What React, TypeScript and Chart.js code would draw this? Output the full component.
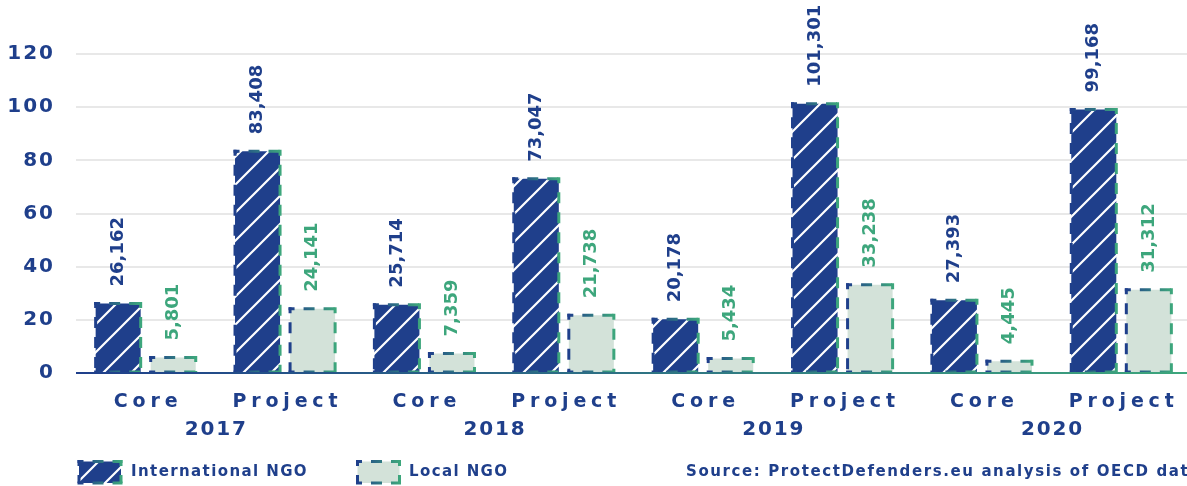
import React, { useEffect, useRef } from "react";
import { Chart, registerables } from "chart.js";

Chart.register(...registerables);

const categories = ["Core", "Project", "Core", "Project", "Core", "Project", "Core", "Project"];
const years = ["2017", "2018", "2019", "2020"];
const internationalNGO = [26162, 83408, 25714, 73047, 20178, 101301, 27393, 99168];
const localNGO = [5801, 24141, 7359, 21738, 5434, 33238, 4445, 31312];
const yTicks = [0, 20, 40, 60, 80, 100, 120];
const seriesNames = ["International NGO", "Local NGO"];
const sourceText = "Source: ProtectDefenders.eu analysis of OECD data";

const NAVY = "#1f3f8b";
const GREEN = "#3da67c";
const LOCAL_FILL = "#d3e2d9";
const GRID = "#e8e8e8";
const FONT = '"DejaVu Sans", sans-serif';

function makeHatch(ctx: CanvasRenderingContext2D): CanvasPattern {
  const s = 28;
  const c = document.createElement("canvas");
  c.width = s;
  c.height = s;
  const g = c.getContext("2d")!;
  g.fillStyle = NAVY;
  g.fillRect(0, 0, s, s);
  g.strokeStyle = "#ffffff";
  g.lineWidth = 2.2;
  g.beginPath();
  g.moveTo(-4, s + 4);
  g.lineTo(s + 4, -4);
  g.moveTo(-4, 4);
  g.lineTo(4, -4);
  g.moveTo(s - 4, s + 4);
  g.lineTo(s + 4, s - 4);
  g.stroke();
  return ctx.createPattern(c, "repeat")!;
}

function drawText(
  ctx: CanvasRenderingContext2D,
  s: string,
  x: number,
  y: number,
  size: number,
  color: string,
  align: "left" | "center" | "right",
  spacing: number
) {
  ctx.save();
  ctx.font = `bold ${size}px ${FONT}`;
  ctx.fillStyle = color;
  ctx.textBaseline = "middle";
  ctx.textAlign = "left";
  (ctx as any).letterSpacing = `${spacing}px`;
  const w = ctx.measureText(s).width - spacing;
  let x0 = x;
  if (align === "center") x0 = x - w / 2;
  else if (align === "right") x0 = x - w;
  ctx.fillText(s, x0, y);
  ctx.restore();
}

function dashedBox(ctx: CanvasRenderingContext2D, l: number, t: number, r: number, b: number) {
  ctx.save();
  const grad = ctx.createLinearGradient(l, 0, r, 0);
  grad.addColorStop(0, NAVY);
  grad.addColorStop(1, GREEN);
  ctx.strokeStyle = grad;
  ctx.lineWidth = 3;
  ctx.setLineDash([11, 9]);
  ctx.lineDashOffset = 5;
  const seg = (x1: number, y1: number, x2: number, y2: number) => {
    ctx.beginPath();
    ctx.moveTo(x1, y1);
    ctx.lineTo(x2, y2);
    ctx.stroke();
  };
  seg(l, t - 1.5, l, b);
  seg(l - 1.5, t, r + 1.5, t);
  seg(r, t - 1.5, r, b);
  seg(l - 1.5, b, r + 1.5, b);
  ctx.restore();
}

export default function App() {
  const ref = useRef<HTMLCanvasElement>(null);

  useEffect(() => {
    const canvas = ref.current!;
    const ctx = canvas.getContext("2d")!;
    const hatch = makeHatch(ctx);

    const decor = {
      id: "decor",
      afterDatasetsDraw(chart: any) {
        const c: CanvasRenderingContext2D = chart.ctx;
        [0, 1].forEach((di) => {
          chart.getDatasetMeta(di).data.forEach((el: any) => {
            const p = el.getProps(["x", "y", "base", "width"], true);
            dashedBox(c, p.x - p.width / 2, p.y, p.x + p.width / 2, p.base);
          });
        });
        const area = chart.chartArea;
        const y0 = chart.scales.y.getPixelForValue(0);
        c.save();
        const g = c.createLinearGradient(area.left, 0, area.right, 0);
        g.addColorStop(0, NAVY);
        g.addColorStop(1, GREEN);
        c.strokeStyle = g;
        c.lineWidth = 2;
        c.beginPath();
        c.moveTo(area.left, y0);
        c.lineTo(area.right, y0);
        c.stroke();
        c.restore();
      },
      afterDraw(chart: any) {
        const c: CanvasRenderingContext2D = chart.ctx;
        const xs = chart.scales.x;
        const ys = chart.scales.y;
        // y tick labels
        yTicks.forEach((t) => {
          drawText(c, String(t), 53, ys.getPixelForValue(t), 20, NAVY, "right", 2);
        });
        // x category labels
        categories.forEach((lab, i) => {
          drawText(c, lab, xs.getPixelForValue(i), 402, 19, NAVY, "center", 4.8);
        });
        years.forEach((yr, k) => {
          const cx = (xs.getPixelForValue(2 * k) + xs.getPixelForValue(2 * k + 1)) / 2;
          drawText(c, yr, cx, 430, 20, NAVY, "center", 1.8);
        });
        // data labels
        const series = [internationalNGO, localNGO];
        const colors = [NAVY, GREEN];
        [0, 1].forEach((di) => {
          chart.getDatasetMeta(di).data.forEach((el: any, i: number) => {
            const p = el.getProps(["x", "y"], true);
            c.save();
            c.translate(p.x, p.y - 17);
            c.rotate(-Math.PI / 2);
            drawText(c, series[di][i].toLocaleString("en-US"), 0, 0, 18, colors[di], "left", 0);
            c.restore();
          });
        });
        // legend
        c.save();
        c.fillStyle = hatch;
        c.fillRect(79, 461.5, 42, 21.5);
        c.restore();
        dashedBox(c, 79, 461.5, 121, 483);
        drawText(c, seriesNames[0], 131, 472, 15, NAVY, "left", 1.4);
        c.save();
        c.fillStyle = LOCAL_FILL;
        c.fillRect(357.5, 461.5, 42, 21.5);
        c.restore();
        dashedBox(c, 357.5, 461.5, 399.5, 483);
        drawText(c, seriesNames[1], 409, 472, 15, NAVY, "left", 1.4);
        drawText(c, sourceText, 686, 472, 15, NAVY, "left", 1.6);
      },
    };

    const chart = new Chart(ctx, {
      type: "bar",
      data: {
        labels: categories,
        datasets: [
          {
            label: seriesNames[0],
            data: internationalNGO.map((v) => v / 1000),
            backgroundColor: hatch as any,
            borderWidth: 0,
            categoryPercentage: 0.79,
            barPercentage: 0.818,
          },
          {
            label: seriesNames[1],
            data: localNGO.map((v) => v / 1000),
            backgroundColor: LOCAL_FILL,
            borderWidth: 0,
            categoryPercentage: 0.79,
            barPercentage: 0.818,
          },
        ],
      },
      options: {
        responsive: false,
        animation: false,
        layout: { padding: { top: 54, left: 0, right: 0, bottom: 0 } },
        plugins: { legend: { display: false }, tooltip: { enabled: false } },
        scales: {
          x: {
            grid: { display: false },
            border: { display: false },
            ticks: { display: false },
            afterFit: (s: any) => {
              s.height = 113;
            },
          },
          y: {
            min: 0,
            max: 120,
            ticks: { display: false, stepSize: 20 },
            grid: { color: GRID, lineWidth: 2, drawTicks: false },
            border: { display: false },
            afterFit: (s: any) => {
              s.width = 76;
            },
          },
        },
      },
      plugins: [decor],
    });
    return () => chart.destroy();
  }, []);

  return (
    <div style={{ position: "fixed", left: 0, top: 0, width: 1187, height: 486, overflow: "hidden", background: "#fff" }}>
      <canvas ref={ref} width={1191} height={486} style={{ display: "block", width: 1191, height: 486 }} />
    </div>
  );
}
